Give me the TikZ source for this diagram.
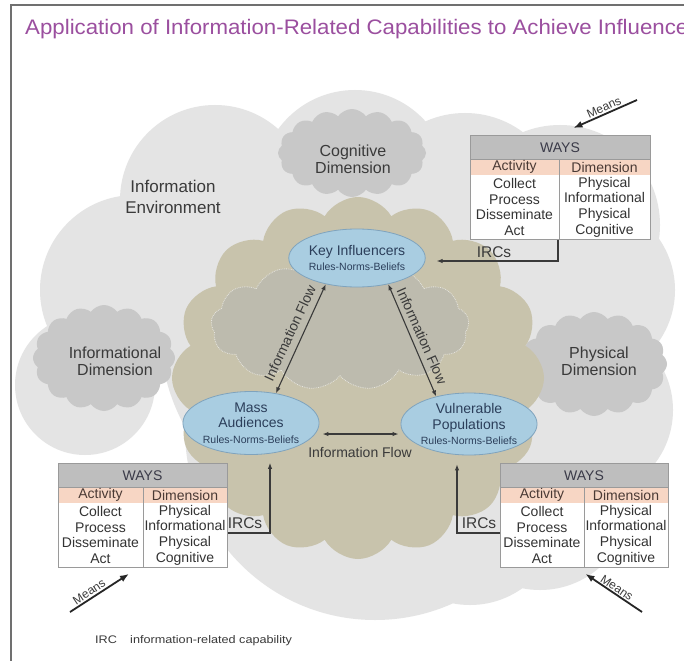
\documentclass[tikz,border=0pt]{standalone}
\usepackage{fontspec}
\setmainfont{Liberation Sans}
\usetikzlibrary{shapes.geometric,shapes.symbols,arrows.meta,calc}

\definecolor{titlepurple}{HTML}{9B4F9F}
\definecolor{envgray}{HTML}{E4E4E4}
\definecolor{dimgray}{HTML}{C8C8C8}
\definecolor{khaki}{HTML}{C8C3AC}
\definecolor{innergray}{HTML}{BDBBAE}
\definecolor{ellfill}{HTML}{A9CDE1}
\definecolor{elldraw}{HTML}{7FA3BD}
\definecolor{navy}{HTML}{2B3E5A}
\definecolor{txtgray}{HTML}{3A3A3A}
\definecolor{hdrgray}{HTML}{BEBEBE}
\definecolor{peach}{HTML}{F7D6C4}
\definecolor{tblborder}{HTML}{9A9A9A}
\definecolor{arrowgray}{HTML}{3A3A3A}
\definecolor{hdrtext}{HTML}{3A3A48}
\definecolor{acttext}{HTML}{4A3A35}
\definecolor{celltext}{HTML}{333333}
\definecolor{framegray}{HTML}{707070}

\newcommand{\rnbfont}{\fontsize{10.5}{12}\selectfont}

\tikzset{
  grp/.style={ellipse, fill=ellfill, draw=elldraw, line width=0.8pt, inner sep=0pt, text=navy, align=center, font=\fontsize{14}{15.5}\selectfont},
  dimcloud/.style={cloud, cloud puffs=16, cloud puff arc=110, fill=dimgray, draw=none, inner sep=0pt},
  dimlbl/.style={text=txtgray, align=center, font=\fontsize{16}{17}\selectfont, inner sep=0pt},
  envlbl/.style={text=txtgray, align=center, font=\fontsize{17}{21}\selectfont, inner sep=0pt},
  flow/.style={arrowgray, line width=1.1pt, {Latex[length=6pt,width=4.5pt]}-{Latex[length=6pt,width=4.5pt]}},
  flowlbl/.style={text=txtgray, font=\fontsize{14}{16}\selectfont, inner sep=0pt},
  irc/.style={arrowgray, line width=1.1pt, -{Latex[length=6pt,width=4.5pt]}},
  irclbl/.style={text=txtgray, font=\fontsize{15.5}{17}\selectfont, inner sep=0pt},
  means/.style={black!85, line width=1.8pt, -{Latex[length=9pt,width=7pt]}},
  meanslbl/.style={text=txtgray, font=\fontsize{12}{14}\selectfont, inner sep=0.8pt},
  hdrtxt/.style={text=hdrtext, font=\fontsize{14}{16}\selectfont, inner sep=0pt},
  acttxt/.style={text=acttext, font=\fontsize{14}{16}\selectfont, inner sep=0pt},
  celltxt/.style={text=celltext, font=\fontsize{14}{15.7}\selectfont, align=center, inner sep=0pt},
  tblframe/.style={draw=tblborder, line width=0.9pt, inner sep=0pt, anchor=north west},
}

% #1 name, #2 x left, #3 y top, #4 width, #5 left column width
\newcommand{\waystab}[5]{%
  \begin{scope}[shift={(#2,#3)}]
    \fill[hdrgray] (0,0) rectangle (#4,24);
    \fill[peach] (0,24) rectangle (#4,40);
    \fill[white] (0,40) rectangle (#4,104);
    \draw[tblborder, line width=0.7pt] (0,24) -- (#4,24) (#5,24) -- (#5,104);
    \node[hdrtxt] (#1-ways) at (#4/2,12.5) {WAYS};
    \node[acttxt] (#1-act) at (#5/2,32) {Activity};
    \node[acttxt] (#1-dim) at ({(#5+#4)/2},32) {Dimension};
    \node[celltxt] (#1-a) at (#5/2,72) {Collect\\Process\\Disseminate\\Act};
    \node[celltxt] (#1-d) at ({(#5+#4)/2},72) {Physical\\Informational\\Physical\\Cognitive};
  \end{scope}
  \node[tblframe, minimum width=#4pt, minimum height=104pt] (#1) at (#2,#3) {};
}

\begin{document}
\begin{tikzpicture}[x=1pt,y=-1pt]
\clip (0,0) rectangle (684,660);
\fill[white] (0,0) rectangle (684,660);

% information environment (large light cloud)
\fill[envgray]
  (215,200) circle[radius=95pt]
  (355,185) circle[radius=95pt]
  (465,210) circle[radius=97pt]
  (560,225) circle[radius=100pt]
  (585,290) circle[radius=90pt]
  (585,410) circle[radius=88pt]
  (540,500) circle[radius=90pt]
  (470,515) circle[radius=90pt]
  (375,430) circle[radius=190pt]
  (135,290) circle[radius=95pt]
  (85,385) circle[radius=70pt]
  (360,330) circle[radius=200pt];

% dimension clouds
\node[dimcloud, minimum width=148pt, minimum height=88pt, aspect=1.7] (cogcloud) at (352,153) {};
\node[dimcloud, minimum width=142pt, minimum height=106pt, aspect=1.35] (infcloud) at (104,358) {};
\node[dimcloud, minimum width=146pt, minimum height=104pt, aspect=1.4] (phycloud) at (594,364) {};

% khaki cloud and inner grey cloud
\node[cloud, cloud puffs=16, cloud puff arc=120, fill=khaki, draw=none, inner sep=0pt, minimum width=372pt, minimum height=362pt, aspect=1.03] (khakicloud) at (358,378) {};
\node[cloud, cloud puffs=13, cloud puff arc=110, fill=innergray, draw=white, densely dotted, line width=0.8pt, draw opacity=0.6, inner sep=0pt, minimum width=258pt, minimum height=128pt, aspect=2] (innercloud) at (340,326) {};

% labels on the environment
\node[envlbl] (envtxt) at (173,197) {Information\\Environment};
\node[dimlbl] (cogtxt) at (353,159) {Cognitive\\Dimension};
\node[dimlbl] (inftxt) at (115,361) {Informational\\Dimension};
\node[dimlbl] (phytxt) at (599,361) {Physical\\Dimension};

% audience ellipses
\node[grp, minimum width=128pt, minimum height=58pt] (key) at (357,258) {Key Influencers\\{\rnbfont Rules-Norms-Beliefs}};
\node[grp, minimum width=125pt, minimum height=63pt] (mass) at (251,423) {Mass\\Audiences\\{\rnbfont Rules-Norms-Beliefs}};
\node[grp, minimum width=130pt, minimum height=62pt] (vuln) at (469,424) {Vulnerable\\Populations\\{\rnbfont Rules-Norms-Beliefs}};

% information flows
\draw[flow] (key.220) -- (mass.50);
\draw[flow] (key.320) -- (vuln.140);
\draw[flow, shorten <=3pt, shorten >=2pt] (mass.east |- 0,434) -- node[flowlbl, yshift=-18pt] (flowB) {Information Flow} (vuln.west |- 0,434);
\node[flowlbl, rotate=65] (flowL) at (290,333) {Information Flow};
\node[flowlbl, rotate=-66] (flowR) at (422,336) {Information Flow};

% WAYS tables
\waystab{tblTR}{470}{135}{180}{89}
\waystab{tblBL}{58}{463}{169}{85}
\waystab{tblBR}{500}{463}{168}{84}

% IRC connectors
\coordinate (keyin) at ([xshift=11pt,yshift=-3pt]key.east);
\coordinate (massin) at ([xshift=19pt,yshift=-8pt]mass.south);
\coordinate (vulnin) at ([xshift=-12pt,yshift=-9pt]vuln.south);
\draw[irc] (tblTR.south -| 558,0) |- (keyin);
\draw[irc] (tblBL.east |- 0,533) -| (massin);
\draw[irc] (tblBR.west |- 0,533) -| (vulnin);
\node[irclbl] (ircTR) at (494,252) {IRCs};
\node[irclbl] (ircBL) at (245,523) {IRCs};
\node[irclbl] (ircBR) at (479,523) {IRCs};

% Means arrows
\coordinate (meansTR) at (637,100);
\coordinate (meansBL) at (70,612);
\coordinate (meansBR) at (642,612);
\draw[means] (meansTR) -- ([xshift=13pt,yshift=7pt]tblTR.north);
\draw[means] (meansBL) -- ([xshift=-14pt,yshift=-6pt]tblBL.south);
\draw[means] (meansBR) -- ([xshift=1pt,yshift=-6pt]tblBR.south);
\node[meanslbl, anchor=south, rotate=24] (meansTRtxt) at (606,112) {Means};
\node[meanslbl, anchor=south, rotate=34] (meansBLtxt) at (92,596) {Means};
\node[meanslbl, anchor=south, rotate=-34] (meansBRtxt) at (614,592) {Means};

% footer
\node[anchor=base west, inner sep=0pt, text=txtgray, font=\fontsize{11}{13}\selectfont, xscale=1.15] (irckey) at (95,643) {IRC};
\node[anchor=base west, inner sep=0pt, text=txtgray, font=\fontsize{11}{13}\selectfont, xscale=1.15] (ircdef) at (130,643) {information-related capability};

% title
\node[anchor=base west, inner sep=0pt, text=titlepurple, font=\fontsize{21}{25}\selectfont, xscale=1.06] (title) at (25,35) {Application of Information-Related Capabilities to Achieve Influence};

% frame
\draw[framegray, line width=1.3pt] (11,662) -- (11,5) -- (686,5);
\end{tikzpicture}
\end{document}
